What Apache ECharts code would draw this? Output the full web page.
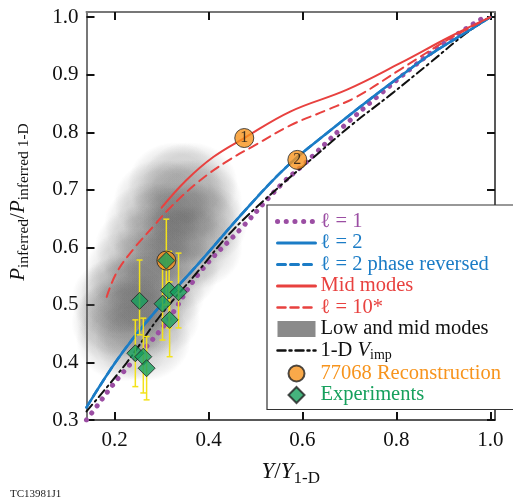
<!DOCTYPE html>
<html>
<head>
<meta charset="utf-8">
<script src="https://cdn.jsdelivr.net/npm/echarts@6/dist/echarts.min.js"></script>
<style>
html, body { margin: 0; padding: 0; background: #fff; }
#chart { width: 513px; height: 502px; }
</style>
</head>
<body>
<div id="chart"></div>
<script>
// tick values
const xTicks = [0.2, 0.4, 0.6, 0.8, 1.0];
const yTicks = [0.3, 0.4, 0.5, 0.6, 0.7, 0.8, 0.9, 1.0];

// curves [Y/Y1-D, P/P1-D]
const l1Data = [[0.14, 0.30], [0.151, 0.312], [0.21, 0.375], [0.303, 0.462], [0.38, 0.555], [0.473, 0.636], [0.558, 0.712], [0.6, 0.742], [0.687, 0.81], [0.758, 0.861], [0.836, 0.914], [0.907, 0.958], [0.985, 0.999]];
const l2Data = [[0.14, 0.322], [0.21, 0.41], [0.289, 0.491], [0.38, 0.573], [0.473, 0.66], [0.566, 0.74], [0.659, 0.803], [0.751, 0.862], [0.808, 0.897], [0.872, 0.935], [0.957, 0.978], [1.0, 1.0]];
const midData = [[0.30, 0.669], [0.353, 0.717], [0.41, 0.757], [0.476, 0.79], [0.574, 0.836], [0.695, 0.874], [0.808, 0.92], [0.914, 0.966], [1.0, 1.0]];
const l10Data = [[0.183, 0.514], [0.204, 0.556], [0.239, 0.596], [0.282, 0.636], [0.317, 0.668], [0.38, 0.715], [0.44, 0.75], [0.50, 0.778], [0.574, 0.812], [0.653, 0.839], [0.716, 0.862], [0.808, 0.909], [0.914, 0.963], [1.0, 1.0]];
const vimpData = [[0.14, 0.315], [0.225, 0.399], [0.295, 0.479], [0.374, 0.555], [0.452, 0.63], [0.55, 0.705], [0.623, 0.756], [0.705, 0.813], [0.787, 0.865], [0.872, 0.921], [0.95, 0.973], [1.0, 1.0]];

// low and mid modes ensemble (centres)
const blobData = [
  [0.22, 0.44], [0.26, 0.44],
  [0.21, 0.47], [0.21, 0.51],
  [0.22, 0.48], [0.25, 0.48], [0.28, 0.48],
  [0.23, 0.52], [0.26, 0.52], [0.29, 0.52],
  [0.24, 0.56], [0.28, 0.56], [0.32, 0.56],
  [0.26, 0.60], [0.30, 0.60], [0.34, 0.60], [0.37, 0.60],
  [0.28, 0.64], [0.32, 0.64], [0.36, 0.64], [0.38, 0.64],
  [0.30, 0.68], [0.34, 0.68], [0.37, 0.68],
  [0.33, 0.71], [0.36, 0.71]
];

// 77068 reconstruction
const reconData = [[0.31, 0.577], [0.476, 0.79], [0.589, 0.752]];
const reconLabels = ['', '1', '2'];

// experiments [x, y, low, high]
const expData = [
  [0.253, 0.507, 0.448, 0.578],
  [0.310, 0.577, 0.500, 0.649],
  [0.316, 0.525, 0.460, 0.593],
  [0.336, 0.522, 0.460, 0.590],
  [0.302, 0.502, 0.439, 0.567],
  [0.317, 0.474, 0.410, 0.540],
  [0.244, 0.416, 0.358, 0.474],
  [0.261, 0.410, 0.347, 0.477],
  [0.268, 0.390, 0.335, 0.445]
];

const serif = 'Liberation Serif';
const chart = echarts.init(document.getElementById('chart'));

function renderErrorBar(params, api) {
  const x = api.value(0);
  const lo = api.coord([x, api.value(2)]);
  const hi = api.coord([x, api.value(3)]);
  const cap = 3;
  const style = { stroke: '#f3e21a', lineWidth: 1.5 };
  return {
    type: 'group',
    children: [
      { type: 'line', shape: { x1: hi[0], y1: hi[1], x2: lo[0], y2: lo[1] }, style },
      { type: 'line', shape: { x1: hi[0] - cap, y1: hi[1], x2: hi[0] + cap, y2: hi[1] }, style },
      { type: 'line', shape: { x1: lo[0] - cap, y1: lo[1], x2: lo[0] + cap, y2: lo[1] }, style },
    ],
  };
}

const lineSeries = (name, data, color, width, type, z) => ({
  name,
  type: 'line',
  data,
  smooth: 0.4,
  symbol: 'none',
  z,
  lineStyle: { color, width, type, cap: 'round' },
  itemStyle: { color },
});

// legend entries for plain lines: hide the symbol, keep the line
const lineItem = (name, color, width, type) => ({
  name,
  itemStyle: { opacity: 0 },
  lineStyle: { color, width, type, cap: 'round' },
  textStyle: { color },
});

const blobFill = new echarts.graphic.RadialGradient(0.5, 0.5, 0.5, [
  { offset: 0, color: 'rgba(85,85,85,0.17)' },
  { offset: 0.72, color: 'rgba(85,85,85,0.16)' },
  { offset: 0.88, color: 'rgba(85,85,85,0.08)' },
  { offset: 1, color: 'rgba(85,85,85,0)' },
]);

const option = {
  animation: false,
  title: {
    text: 'TC13981J1',
    left: 5,
    top: 484,
    textStyle: { fontFamily: serif, fontSize: 11, fontWeight: 'normal', color: '#222' },
  },
  grid: { left: 86, right: 18, top: 12, bottom: 82 },
  legend: {
    orient: 'vertical',
    left: 267,
    top: 205,
    padding: [6, 30, 4, 8],
    itemWidth: 38,
    itemHeight: 16,
    itemGap: 0.5,
    backgroundColor: '#fff',
    borderColor: '#333',
    borderWidth: 1.2,
    borderRadius: 0,
    selectedMode: false,
    symbolKeepAspect: true,
    textStyle: {
      fontFamily: serif,
      fontSize: 20.5,
      lineHeight: 20,
      rich: {
        t: { fontFamily: serif, fontSize: 20.5 },
        i: { fontFamily: serif, fontSize: 20.5, fontStyle: 'italic', color: '#111' },
        s: { fontFamily: serif, fontSize: 14, color: '#111', padding: [10, 0, 0, 0] },
      },
    },
    formatter: (name) => (name === '1-D Vimp' ? '{t|1-D }{i|V}{s|imp}' : `{t|${name}}`),
    data: [
      lineItem('ℓ = 1', '#9b4ea3', 5, [0.1, 8.6]),
      lineItem('ℓ = 2', '#1b7cc6', 3, 'solid'),
      lineItem('ℓ = 2 phase reversed', '#1b7cc6', 3, [8, 5]),
      lineItem('Mid modes', '#e8413f', 3, 'solid'),
      lineItem('ℓ = 10*', '#e8413f', 2.5, [8, 5]),
      { name: 'Low and mid modes', icon: 'rect', itemStyle: { color: '#8a8a8a', opacity: 1 }, textStyle: { color: '#111' } },
      lineItem('1-D Vimp', '#111', 2.5, [8, 4, 2, 4]),
      { name: '77068 Reconstruction', icon: 'circle', textStyle: { color: '#f7941d' } },
      { name: 'Experiments', icon: 'path://M0,-1L1,0L0,1L-1,0Z', textStyle: { color: '#16a05d' } },
    ],
  },
  xAxis: [
    {
      type: 'value',
      min: 0.14,
      max: 1.01,
      position: 'bottom',
      name: '{i|Y}{n|/}{i|Y}{s|1-D}',
      nameLocation: 'middle',
      nameGap: 36,
      nameTextStyle: {
        rich: {
          i: { fontFamily: serif, fontSize: 23, fontStyle: 'italic', color: '#111' },
          n: { fontFamily: serif, fontSize: 23, color: '#111' },
          s: { fontFamily: serif, fontSize: 17, color: '#111', padding: [14, 0, 0, 0] },
        },
      },
      axisLine: { show: true, onZero: false, lineStyle: { color: '#222', width: 1.5 } },
      axisTick: { inside: true, length: 8, customValues: xTicks, lineStyle: { color: '#111', width: 2 } },
      axisLabel: {
        customValues: xTicks,
        formatter: (v) => v.toFixed(1),
        margin: 10,
        fontFamily: serif,
        fontSize: 21,
        color: '#111',
      },
      splitLine: { show: false },
    },
    {
      type: 'value',
      min: 0.14,
      max: 1.01,
      position: 'top',
      axisLine: { show: true, onZero: false, lineStyle: { color: '#777', width: 2 } },
      axisTick: { inside: true, length: 8, customValues: xTicks, lineStyle: { color: '#111', width: 2 } },
      axisLabel: { show: false },
      splitLine: { show: false },
    },
  ],
  yAxis: [
    {
      type: 'value',
      min: 0.3,
      max: 1.009,
      position: 'left',
      name: '{i|P}{s|inferred}{n|/}{i|P}{s|inferred 1-D}',
      nameLocation: 'middle',
      nameRotate: 90,
      nameGap: 55,
      nameTextStyle: {
        padding: [0, 0, 0, 28],
        rich: {
          i: { fontFamily: serif, fontSize: 21, fontStyle: 'italic', color: '#111' },
          n: { fontFamily: serif, fontSize: 21, color: '#111' },
          s: { fontFamily: serif, fontSize: 15.5, color: '#111', padding: [10, 0, 0, 0] },
        },
      },
      axisLine: { show: true, onZero: false, lineStyle: { color: '#777', width: 2 } },
      axisTick: { inside: true, length: 8, customValues: yTicks, lineStyle: { color: '#111', width: 2 } },
      axisLabel: {
        customValues: yTicks,
        formatter: (v) => v.toFixed(1),
        margin: 8,
        fontFamily: serif,
        fontSize: 21,
        color: '#111',
      },
      splitLine: { show: false },
    },
    {
      type: 'value',
      min: 0.3,
      max: 1.009,
      position: 'right',
      axisLine: { show: true, onZero: false, lineStyle: { color: '#222', width: 1.5 } },
      axisTick: { inside: true, length: 8, customValues: yTicks, lineStyle: { color: '#111', width: 2 } },
      axisLabel: { show: false },
      splitLine: { show: false },
    },
  ],
  series: [
    {
      name: 'Low and mid modes',
      type: 'scatter',
      data: blobData,
      symbol: 'circle',
      symbolSize: [96, 84],
      z: 1,
      itemStyle: { color: blobFill },
      silent: true,
    },
    lineSeries('ℓ = 2 phase reversed', l2Data, '#1b7cc6', 2.5, [8, 5], 2),
    lineSeries('ℓ = 1', l1Data, '#9b4ea3', 5, [0.1, 8.6], 2),
    lineSeries('1-D Vimp', vimpData, '#111', 2, [9, 4, 2, 4], 2),
    lineSeries('ℓ = 2', l2Data, '#1b7cc6', 2.5, 'solid', 3),
    lineSeries('Mid modes', midData, '#e8413f', 2, 'solid', 3),
    lineSeries('ℓ = 10*', l10Data, '#e8413f', 2, [9, 6], 3),
    {
      name: 'errorbars',
      type: 'custom',
      renderItem: renderErrorBar,
      data: expData,
      z: 4,
      encode: { x: 0, y: [2, 3] },
    },
    {
      name: '77068 Reconstruction',
      type: 'scatter',
      symbol: 'circle',
      symbolSize: 19,
      z: 5,
      itemStyle: { color: '#f7941d', borderColor: '#222', borderWidth: 1 },
      label: { show: true, position: 'inside', fontFamily: serif, fontSize: 16, color: '#111' },
      data: reconData.map((d, i) => ({ value: d, label: { formatter: reconLabels[i] } })),
    },
    {
      name: 'Experiments',
      type: 'scatter',
      symbol: 'diamond',
      symbolSize: 17,
      z: 6,
      itemStyle: { color: '#16a05d', borderColor: '#222', borderWidth: 1 },
      data: expData.map((d) => [d[0], d[1]]),
    },
  ],
};

chart.setOption(option);
</script>
</body>
</html>
